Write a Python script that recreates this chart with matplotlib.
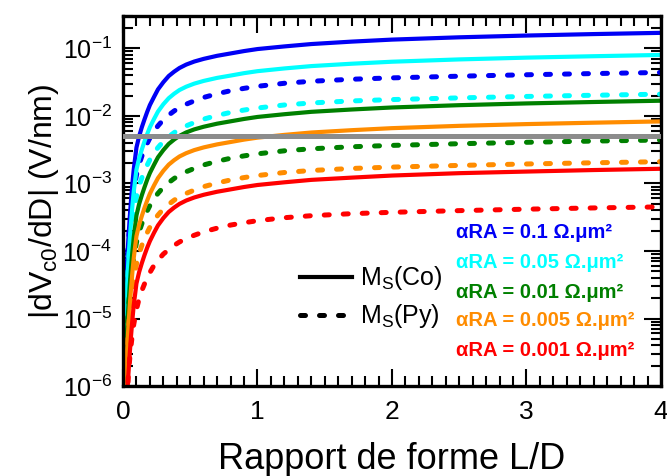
import matplotlib
matplotlib.use("Agg")
import matplotlib.pyplot as plt
from matplotlib.ticker import MultipleLocator, LogLocator, NullFormatter

plt.rcParams['font.family'] = ['Liberation Sans', 'DejaVu Sans']
plt.rcParams['mathtext.fontset'] = 'custom'
plt.rcParams['mathtext.rm'] = 'Liberation Sans'
plt.rcParams['mathtext.it'] = 'Liberation Sans'
plt.rcParams['mathtext.default'] = 'regular'
plt.rcParams['axes.unicode_minus'] = False

# Rapport de forme L/D
x_ld = [0.01, 0.02, 0.03, 0.04, 0.05, 0.06, 0.07, 0.08, 0.1, 0.12, 0.14, 0.16, 0.18, 0.2,
        0.23, 0.26, 0.3, 0.34, 0.38, 0.42, 0.47, 0.53, 0.6, 0.7, 0.8, 0.9, 1.0,
        1.2, 1.4, 1.7, 2.0, 2.5, 3.0, 3.5, 4.0]

# Ms(Co) - traits pleins
co_ra0p1 = [4.3e-6, 2.4e-5, 6.8e-5, 1.51e-4, 3.1e-4, 5.8e-4, 1.0e-3, 1.62e-3, 3.4e-3, 5.0e-3,
            6.8e-3, 8.9e-3, 0.0115, 0.0145, 0.019, 0.0247, 0.0316, 0.039, 0.0452, 0.0513,
            0.0576, 0.0639, 0.070, 0.0777, 0.0842, 0.0913, 0.0978, 0.107, 0.116, 0.126,
            0.135, 0.146, 0.155, 0.163, 0.17]
co_ra0p05 = [2.0e-6, 1.13e-5, 3.2e-5, 7.1e-5, 1.46e-4, 2.7e-4, 4.7e-4, 7.6e-4, 1.6e-3, 2.36e-3,
             3.18e-3, 4.2e-3, 5.4e-3, 6.8e-3, 8.96e-3, 0.0116, 0.0149, 0.0183, 0.0213, 0.0242,
             0.0271, 0.0301, 0.033, 0.0366, 0.0396, 0.043, 0.046, 0.0505, 0.0547, 0.0593,
             0.0635, 0.0687, 0.073, 0.0766, 0.08]
co_ra0p01 = [4.2e-7, 2.37e-6, 6.7e-6, 1.5e-5, 3.06e-5, 5.7e-5, 9.9e-5, 1.6e-4, 3.36e-4, 4.96e-4,
             6.7e-4, 8.8e-4, 1.14e-3, 1.43e-3, 1.88e-3, 2.44e-3, 3.12e-3, 3.85e-3, 4.47e-3, 5.07e-3,
             5.7e-3, 6.32e-3, 6.92e-3, 7.68e-3, 8.32e-3, 9.02e-3, 9.66e-3, 0.0106, 0.0115, 0.01245,
             0.01334, 0.01443, 0.01532, 0.01608, 0.0168]
co_ra0p005 = [2.1e-7, 1.17e-6, 3.3e-6, 7.4e-6, 1.51e-5, 2.81e-5, 4.9e-5, 7.9e-5, 1.66e-4, 2.45e-4,
              3.3e-4, 4.36e-4, 5.6e-4, 7.06e-4, 9.3e-4, 1.2e-3, 1.54e-3, 1.9e-3, 2.21e-3, 2.51e-3,
              2.81e-3, 3.12e-3, 3.42e-3, 3.79e-3, 4.11e-3, 4.46e-3, 4.77e-3, 5.24e-3, 5.68e-3, 6.15e-3,
              6.59e-3, 7.13e-3, 7.57e-3, 7.94e-3, 8.3e-3]
co_ra0p001 = [4.1e-8, 2.3e-7, 6.6e-7, 1.47e-6, 3.0e-6, 5.6e-6, 9.7e-6, 1.58e-5, 3.3e-5, 4.87e-5,
              6.6e-5, 8.7e-5, 1.12e-4, 1.4e-4, 1.85e-4, 2.39e-4, 3.07e-4, 3.78e-4, 4.39e-4, 4.98e-4,
              5.59e-4, 6.2e-4, 6.8e-4, 7.54e-4, 8.17e-4, 8.86e-4, 9.49e-4, 1.04e-3, 1.13e-3, 1.22e-3,
              1.31e-3, 1.42e-3, 1.5e-3, 1.58e-3, 1.65e-3]

# Ms(Py) - pointillés
py_ra0p1 = [3.5e-6, 2.2e-5, 6.2e-5, 1.39e-4, 2.47e-4, 3.92e-4, 5.8e-4, 8.0e-4, 1.33e-3, 1.92e-3,
            2.53e-3, 3.19e-3, 3.92e-3, 4.71e-3, 5.94e-3, 7.13e-3, 8.8e-3, 0.0103, 0.01184, 0.01329,
            0.01492, 0.01672, 0.01879, 0.0213, 0.02363, 0.02561, 0.02746, 0.03045, 0.0326, 0.03494,
            0.03661, 0.03876, 0.0407, 0.04242, 0.044]
py_ra0p05 = [1.67e-6, 1.05e-5, 2.96e-5, 6.6e-5, 1.18e-4, 1.87e-4, 2.77e-4, 3.82e-4, 6.34e-4, 9.18e-4,
             1.21e-3, 1.52e-3, 1.87e-3, 2.25e-3, 2.84e-3, 3.4e-3, 4.2e-3, 4.91e-3, 5.65e-3, 6.34e-3,
             7.12e-3, 7.98e-3, 8.97e-3, 0.01016, 0.01128, 0.01222, 0.0131, 0.01453, 0.01556, 0.01667,
             0.01747, 0.0185, 0.01943, 0.02024, 0.021]
py_ra0p01 = [3.5e-7, 2.2e-6, 6.2e-6, 1.39e-5, 2.47e-5, 3.92e-5, 5.8e-5, 8.0e-5, 1.33e-4, 1.92e-4,
             2.53e-4, 3.19e-4, 3.92e-4, 4.71e-4, 5.94e-4, 7.13e-4, 8.8e-4, 1.03e-3, 1.184e-3, 1.329e-3,
             1.492e-3, 1.672e-3, 1.879e-3, 2.13e-3, 2.363e-3, 2.561e-3, 2.746e-3, 3.045e-3, 3.26e-3, 3.494e-3,
             3.661e-3, 3.876e-3, 4.07e-3, 4.242e-3, 4.4e-3]
py_ra0p005 = [1.67e-7, 1.05e-6, 2.96e-6, 6.6e-6, 1.18e-5, 1.87e-5, 2.77e-5, 3.82e-5, 6.34e-5, 9.18e-5,
              1.21e-4, 1.52e-4, 1.87e-4, 2.25e-4, 2.84e-4, 3.4e-4, 4.2e-4, 4.91e-4, 5.65e-4, 6.34e-4,
              7.12e-4, 7.98e-4, 8.97e-4, 1.016e-3, 1.128e-3, 1.222e-3, 1.31e-3, 1.453e-3, 1.556e-3, 1.667e-3,
              1.747e-3, 1.85e-3, 1.943e-3, 2.024e-3, 2.1e-3]
py_ra0p001 = [3.6e-8, 2.25e-7, 6.3e-7, 1.42e-6, 2.53e-6, 4.0e-6, 5.9e-6, 8.2e-6, 1.36e-5, 1.97e-5,
              2.59e-5, 3.26e-5, 4.0e-5, 4.8e-5, 6.1e-5, 7.3e-5, 9.0e-5, 1.05e-4, 1.21e-4, 1.36e-4,
              1.53e-4, 1.71e-4, 1.92e-4, 2.18e-4, 2.42e-4, 2.62e-4, 2.81e-4, 3.11e-4, 3.33e-4, 3.57e-4,
              3.74e-4, 3.96e-4, 4.16e-4, 4.34e-4, 4.5e-4]

# seuil (ligne grise)
seuil = 5e-3

ra_labels = ['0.1', '0.05', '0.01', '0.005', '0.001']
couleurs = ['#0000f5', '#00ffff', '#008000', '#ff8c00', '#ff0000']
co_series = [co_ra0p1, co_ra0p05, co_ra0p01, co_ra0p005, co_ra0p001]
py_series = [py_ra0p1, py_ra0p05, py_ra0p01, py_ra0p005, py_ra0p001]

fig = plt.figure(figsize=(6.67, 4.76), dpi=100)
ax = fig.add_axes([0.1844, 0.189, 0.8066, 0.777])

for c, yc, yp in zip(couleurs, co_series, py_series):
    ax.plot(x_ld, yc, color=c, lw=3.0, solid_capstyle='butt', solid_joinstyle='round')
    ax.plot(x_ld, yp, color=c, lw=3.6, linestyle=(0, (1.0, 2.8)), dash_capstyle='round')

ax.axhline(seuil, color='#8c8c8c', lw=3.6, zorder=5)

ax.set_yscale('log')
ax.set_xlim(0, 4)
ax.set_ylim(1e-6, 0.3)

ax.xaxis.set_major_locator(MultipleLocator(1))
ax.xaxis.set_minor_locator(MultipleLocator(0.1))
ax.yaxis.set_major_locator(LogLocator(base=10, numticks=10))
ax.yaxis.set_minor_locator(LogLocator(base=10, subs=range(2, 10), numticks=10))
ax.yaxis.set_minor_formatter(NullFormatter())

ax.tick_params(which='both', direction='in', top=True, right=True, width=1.5)
ax.tick_params(which='major', length=12)
ax.tick_params(which='minor', length=7)
ax.tick_params(axis='x', pad=10, labelsize=19)
ax.tick_params(axis='y', pad=8, labelsize=18)
for s in ax.spines.values():
    s.set_linewidth(2.4)

ax.set_xlabel('Rapport de forme L/D', fontsize=26, labelpad=13)
ax.set_ylabel('|dV$_{c0}$/dD| (V/nm)', fontsize=23, labelpad=1)

# légende Ms
h1, = ax.plot([], [], color='black', lw=3.0)
h2, = ax.plot([], [], color='black', lw=3.6, linestyle=(0, (1.0, 2.8)), dash_capstyle='round')
ax.legend([h1, h2], ['M$_S$(Co)', 'M$_S$(Py)'], loc='center left',
          bbox_to_anchor=(0.305, 0.24), frameon=False, fontsize=18,
          handlelength=2.1, handletextpad=0.3, labelspacing=0.4, borderpad=0)

# annotations alpha RA
ypos = [0.416, 0.335, 0.254, 0.176, 0.097]
for lab, c, yy in zip(ra_labels, couleurs, ypos):
    ax.text(0.619, yy, 'αRA = ' + lab + ' Ω.μm²', color=c, fontsize=14.5,
            fontweight='bold', transform=ax.transAxes, va='center', ha='left')

fig.savefig('out.png', dpi=100)
